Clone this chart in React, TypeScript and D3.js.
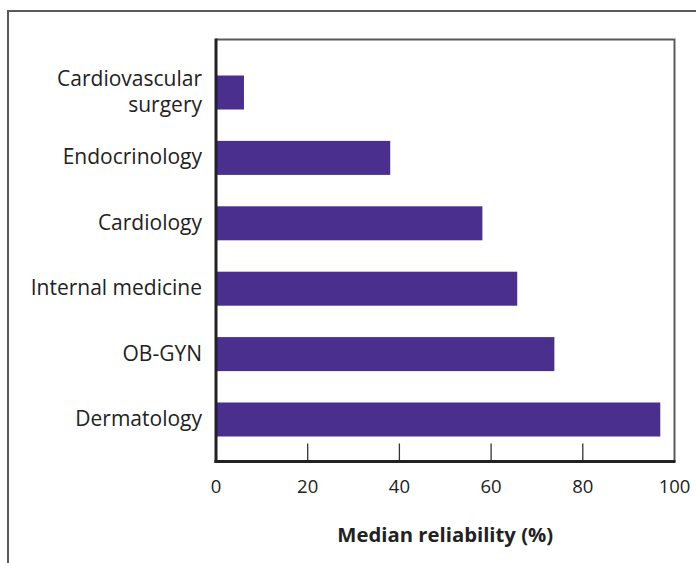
import React from "react";
import * as d3 from "d3";

const categories = ["Cardiovascular surgery", "Endocrinology", "Cardiology", "Internal medicine", "OB-GYN", "Dermatology"];
const labelLines = [["Cardiovascular", "surgery"], ["Endocrinology"], ["Cardiology"], ["Internal medicine"], ["OB-GYN"], ["Dermatology"]];
const values = [6.1, 38, 58.1, 65.7, 73.8, 96.9];
const xTicks = [0, 20, 40, 60, 80, 100];
const xTitle = "Median reliability (%)";

const W = 696, H = 563;
const left = 216, right = 674.5, top = 39.5, bottom = 461.5;
const FONT = "'Open Sans', sans-serif";
const BAR = "#4a2f8f";

export default function App() {
  const x = d3.scaleLinear().domain([0, 100]).range([left, right]);
  const y = d3.scaleBand<string>().domain(categories).range([59.8, 452.2]).paddingInner(0.48).paddingOuter(0.24);
  return (
    <svg width={W} height={H} style={{ position: "absolute", left: 0, top: 0, display: "block" }} fontFamily={FONT}>
      <rect width={W} height={H} fill="#fff" />
      <path d={`M8,${H} V11 H${W}`} fill="none" stroke="#5a5a5a" strokeWidth={2} />
      <path d={`M${left},${top} H${right} V${bottom}`} fill="none" stroke="#5a5a5a" strokeWidth={2} />
      {categories.map((c, i) => (
        <rect key={c} x={x(0)} y={y(c)} width={x(values[i]) - x(0)} height={y.bandwidth()} fill={BAR} />
      ))}
      {xTicks.slice(1, -1).map((t) => (
        <line key={t} x1={x(t)} x2={x(t)} y1={bottom} y2={bottom - 18} stroke="#333" strokeWidth={1.3} />
      ))}
      <line x1={left} x2={left} y1={top - 1} y2={bottom + 1.5} stroke="#222" strokeWidth={3} />
      <line x1={left - 1.5} x2={right + 1} y1={bottom} y2={bottom} stroke="#222" strokeWidth={3} />
      {xTicks.map((t) => (
        <text key={t} x={x(t)} y={492.5} textAnchor="middle" fontSize={18.5} fill="#222">{t}</text>
      ))}
      {categories.map((c, i) => {
        const cy = (y(c) as number) + y.bandwidth() / 2;
        const lines = labelLines[i];
        const start = lines.length === 1 ? cy + 6.5 : cy - 6.5;
        return (
          <text key={c} textAnchor="end" fontSize={21} fill="#222">
            {lines.map((l, j) => (
              <tspan key={j} x={202} y={start + j * 26}>{l}</tspan>
            ))}
          </text>
        );
      })}
      <text x={(left + right) / 2} y={542} textAnchor="middle" fontSize={20.3} fontWeight="bold" fill="#222">{xTitle}</text>
    </svg>
  );
}
